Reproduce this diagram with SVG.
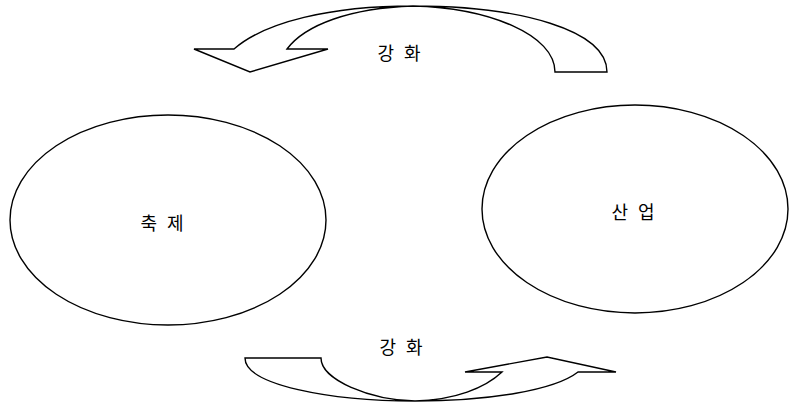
<svg xmlns="http://www.w3.org/2000/svg" width="789" height="403" viewBox="0 0 789 403">
<style>
.shape{fill:#fff;stroke:#000;stroke-width:1.4;stroke-linejoin:miter}
.lbl{font-family:"Noto Sans CJK KR","Noto Sans CJK SC",sans-serif;font-size:18px;fill:#000;text-anchor:middle;dominant-baseline:central;word-spacing:6px}
</style>
<rect width="789" height="403" fill="#fff"/>
<g id="node-chukje">
<ellipse class="shape" cx="168" cy="220" rx="158" ry="105"/>
<text class="lbl" x="162" y="222">축 제</text>
</g>
<g id="node-saneop">
<ellipse class="shape" cx="635" cy="209" rx="153" ry="104"/>
<text class="lbl" x="633" y="211">산 업</text>
</g>
<g id="connectors">
<g id="arrow-top">
<path class="shape" d="M555,72 L607,72 C607,30 520,6 413,6 C330,6 265,22 234,49 L194,49 L250,72 L328,49 L287,49 C305,25 350,8 413,6 C490,8 555,35 555,72 Z"/>
<text class="lbl" x="399" y="52">강 화</text>
</g>
<g id="arrow-bottom">
<path class="shape" d="M245,358 L321,358 C321,380 370,400 415,401 C455,400 485,388 502,372 L465,372 L547,357 L616,372 L578,372 C555,390 490,401 415,401 C330,401 245,385 245,358 Z"/>
<text class="lbl" x="401" y="346">강 화</text>
</g>
</g>
</svg>
